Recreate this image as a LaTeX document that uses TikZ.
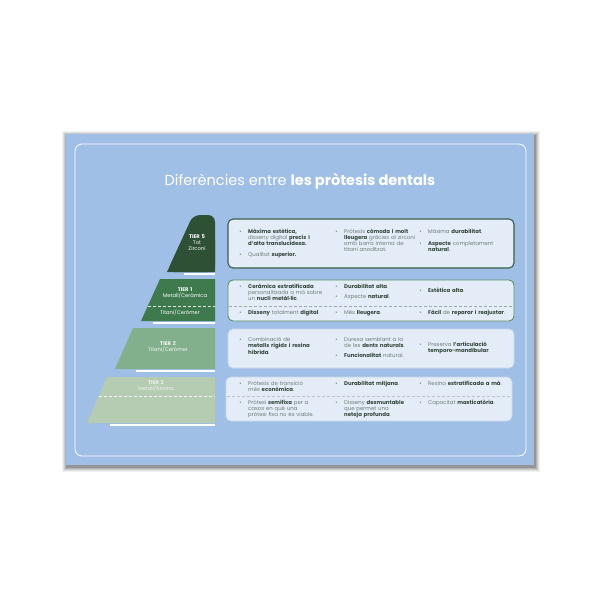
\documentclass[tikz,border=0pt]{standalone}
\usepackage{fontspec}
\setmainfont{Poppins}
\definecolor{cardc}{HTML}{9FBFE6}
\definecolor{boxc}{HTML}{E3ECF7}
\definecolor{t5}{HTML}{2E5035}
\definecolor{t1}{HTML}{3E7A4D}
\definecolor{t2}{HTML}{82B08D}
\definecolor{t3}{HTML}{B5CCB3}
\definecolor{b1}{HTML}{3D5C49}
\definecolor{b2}{HTML}{5A9069}
\definecolor{b3}{HTML}{C8D8EC}
\definecolor{boldc}{HTML}{33463A}
\definecolor{regc}{HTML}{6E7D75}
\newcommand\bu{\llap{\textbullet\hspace{6.5pt}}}
\newcommand\bb[1]{\textbf{\color{boldc}#1}}
\begin{document}
\begin{tikzpicture}[x=1pt,y=-1pt,
  txt/.style={anchor=base west, inner sep=0pt, font=\fontsize{5.4}{5.9}\selectfont, text=regc, align=left, text width=95pt},
  tierlab/.style={anchor=base, inner sep=0pt, font=\fontsize{5.2}{6}\selectfont, text=white, align=center, text width=60pt},
  boxr/.style={rounded corners=5pt, fill=boxc},
  dashpy/.style={white, opacity=0.85, line width=0.8pt, dash pattern=on 3pt off 2pt},
  dashbx/.style={regc, opacity=0.6, line width=0.6pt, dash pattern=on 3pt off 2pt}]
\useasboundingbox (0,0) rectangle (600,600);
\fill[white] (0,0) rectangle (600,600);
% card shadow
\foreach \d/\o in {5/0.05,4/0.07,3/0.09,2/0.12,1/0.16}
  \fill[black,opacity=\o] ({66-\d+1},{134-\d+2}) rectangle ({534+\d+1},{465+\d+2});
\fill[cardc] (66,134) rectangle (534,465);
\draw[white, line width=0.8pt, rounded corners=7pt] (75,144) rectangle (526,456);
% title
\node[font=\fontsize{14.5}{14.5}\selectfont, text=white, anchor=base, inner sep=0pt] (title) at (300,185.5)
  {Diferències entre \textbf{les pròtesis dentals}};
% pyramid
\fill[t5, rounded corners=7pt] (167,272) -- (193,215) -- (215,215) -- (215,272) -- cycle;
\fill[t5] (167,272) -- (182,240) -- (215,240) -- (215,272) -- cycle;
\fill[t1] (141,321) -- (160,279) -- (215,279) -- (215,321) -- cycle;
\fill[t2] (115,369) -- (133,328) -- (215,328) -- (215,369) -- cycle;
\fill[t3] (87,423) -- (107,377) -- (215,377) -- (215,423) -- cycle;
\fill[white] (184,273) rectangle (215,275);
\fill[white] (153,322) rectangle (215,324);
\fill[white] (136,370) rectangle (215,372);
\fill[white] (110,424) rectangle (215,426);
\draw[dashpy] (148,306) -- (215,306);
\draw[dashpy] (99,396) -- (215,396);
% tier labels
\node[tierlab] (l5) at (197,238.5) {\textbf{TIER 5}\\Tot\\Zirconi};
\node[tierlab] (l1) at (185,291.5) {\textbf{TIER 1}\\Metall/Ceràmica};
\node[tierlab] (l1b) at (180,314.5) {Titani/Ceròmer};
\node[tierlab, text=white!90!t2] (l2) at (168,345.5) {\textbf{TIER 2}\\Titani/Ceròmer};
\node[tierlab, text=white!75!t3] (l3) at (156,384.5) {\textbf{TIER 3}\\Metall/Resina};
% boxes
\draw[boxr, draw=b1, line width=1.1pt] (228,219) rectangle (514,268);
\draw[boxr, draw=b2, line width=0.9pt] (228,280) rectangle (514,321);
\draw[boxr, draw=b3, line width=0.8pt] (228,329) rectangle (514,368);
\draw[boxr, draw=b3, line width=0.8pt] (226,377) rectangle (512,421);
\draw[dashbx] (229,306) -- (513,306);
\draw[dashbx, opacity=0.35] (227,396) -- (511,396);
% box 1
\node[txt] (n11) at (248,233.5) {\bu\bb{Màxima estètica,}\\disseny digital \bb{precís i}\\\bb{d'alta translucidesa.}};
\node[txt] (n12) at (248,256.5) {\bu Qualitat \bb{superior.}};
\node[txt] (n13) at (344,233.5) {\bu Pròtesis \bb{còmoda i molt}\\\bb{lleugera} gràcies al zirconi\\amb barra interna de\\titani anoditzat.};
\node[txt] (n14) at (428,233.5) {\bu Màxima \bb{durabilitat}.};
\node[txt] (n15) at (428,245.5) {\bu\bb{Aspecte} completament\\\bb{natural}.};
% box 2
\node[txt] (n21) at (248,288.5) {\bu\bb{Ceràmica estratificada}\\personalitzada a mà sobre\\un \bb{nucli metàl·lic}.};
\node[txt] (n22) at (344,288.5) {\bu\bb{Durabilitat alta}.};
\node[txt] (n23) at (344,298.5) {\bu Aspecte \bb{natural}.};
\node[txt] (n24) at (428,292.5) {\bu\bb{Estètica alta}.};
\node[txt] (n25) at (248,314.5) {\bu\bb{Disseny} totalment \bb{digital}.};
\node[txt] (n26) at (344,314.5) {\bu Més \bb{lleugera}.};
\node[txt] (n27) at (428,314.5) {\bu\bb{Fàcil} de \bb{reparar i reajustar}.};
% box 3
\node[txt] (n31) at (248,341.5) {\bu Combinació de\\\bb{metalls rígids i resina}\\\bb{híbrida}.};
\node[txt] (n32) at (344,341.5) {\bu Duresa semblant a la\\de les \bb{dents naturals}.};
\node[txt] (n33) at (344,357.5) {\bu\bb{Funcionalitat} natural.};
\node[txt] (n34) at (428,346.5) {\bu Preserva \bb{l'articulació}\\\bb{temporo-mandibular}.};
% box 4
\node[txt] (n41) at (248,385.5) {\bu Pròtesis de transició\\més \bb{econòmica}.};
\node[txt] (n42) at (344,385.5) {\bu\bb{Durabilitat mitjana}.};
\node[txt] (n43) at (428,385.5) {\bu Resina \bb{estratificada a mà}.};
\node[txt] (n44) at (248,404.5) {\bu Pròtesi \bb{semifixa} per a\\casos en què una\\pròtesi fixa no és viable.};
\node[txt] (n45) at (344,404.5) {\bu Disseny \bb{desmuntable}\\que permet una\\\bb{neteja profunda}.};
\node[txt] (n46) at (428,404.5) {\bu Capacitat \bb{masticatòria}.};
\end{tikzpicture}
\end{document}
